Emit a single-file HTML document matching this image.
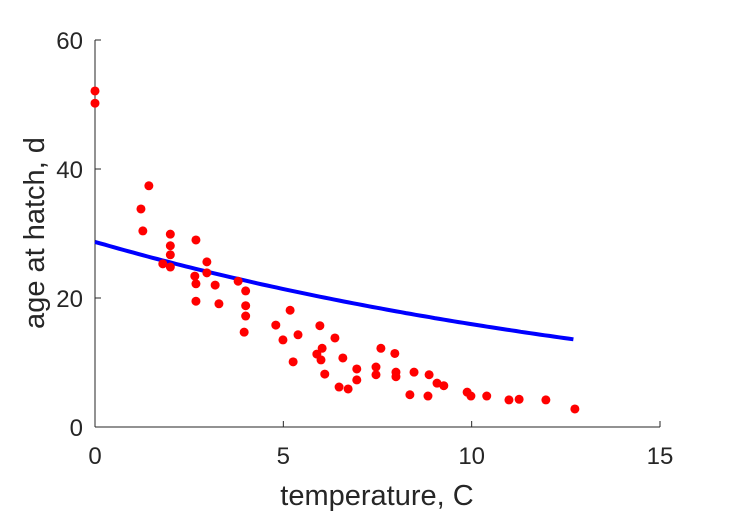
<!DOCTYPE html>
<html><head><meta charset="utf-8"><style>
body{margin:0;background:#fff;}
svg text{font-family:"Liberation Sans",sans-serif;fill:#262626;}
</style></head><body>
<svg width="729" height="521">
<g id="axes"></g>
<g id="marks"></g>
<text x="377" y="505" font-size="29" text-anchor="middle">temperature, C</text>
<text transform="translate(44,233) rotate(-90)" font-size="29" text-anchor="middle">age at hatch, d</text>
</svg>
<script>
const tempC=[0,0,1.43,1.22,1.27,2.0,2.0,2.0,1.8,2.0,2.68,2.97,2.97,2.65,2.68,2.68,3.19,3.29,3.8,4.0,4.0,4.0,3.96,5.18,4.8,4.99,5.39,5.26,5.97,6.37,6.03,5.89,6.0,6.1,6.58,6.48,6.72,6.95,6.95,7.59,7.96,7.46,7.46,7.99,7.99,8.47,8.36,8.87,8.84,9.08,9.26,9.88,9.98,10.4,10.99,11.26,11.97,12.74];
const ageD=[52.1,50.2,37.4,33.8,30.4,29.9,28.1,26.7,25.3,24.8,29.0,25.6,23.9,23.4,22.2,19.5,22.0,19.1,22.6,21.1,18.8,17.2,14.7,18.1,15.8,13.5,14.3,10.1,15.7,13.8,12.2,11.3,10.4,8.2,10.7,6.2,5.9,9.0,7.3,12.2,11.4,9.3,8.1,8.5,7.8,8.5,5.0,8.1,4.8,6.8,6.4,5.4,4.8,4.8,4.2,4.3,4.2,2.8];
const fitA0=28.7, fitK=0.0588, fitXMax=12.7;
const xTicks=[0,5,10,15];
const yTicks=[0,20,40,60];
const NS="http://www.w3.org/2000/svg";
const X0=95,X1=660,Y0=427,Y1=40;
const sx=v=>X0+(v-0)/(15-0)*(X1-X0);
const sy=v=>Y0-(v-0)/(60-0)*(Y0-Y1);
function mk(t,a,p){const e=document.createElementNS(NS,t);for(const k in a)e.setAttribute(k,a[k]);p.appendChild(e);return e;}
const ax=document.getElementById('axes'),mg=document.getElementById('marks');
let l=mk('line',{x1:X0,y1:Y0,x2:X1,y2:Y0,stroke:'#262626','stroke-width':1},ax);


l=mk('line',{x1:X0,y1:Y0,x2:X0,y2:Y1,stroke:'#262626','stroke-width':1},ax);


xTicks.forEach(v=>{
 const t=mk('line',{x1:sx(v),y1:Y0,x2:sx(v),y2:Y0-6,stroke:'#262626'},ax);
 
 
 const s=mk('text',{x:sx(v),y:Y0+37,'font-size':24,'text-anchor':'middle'},ax);s.textContent=v;
 
 
});
yTicks.forEach(v=>{
 const t=mk('line',{x1:X0,y1:sy(v),x2:X0+6,y2:sy(v),stroke:'#262626'},ax);
 
 
 const s=mk('text',{x:X0-12,y:sy(v)+9,'font-size':24,'text-anchor':'end'},ax);s.textContent=v;
 
 
});
let d='';
for(let i=0;i<=100;i++){const x=fitXMax*i/100;d+=(i?'L':'M')+sx(x).toFixed(1)+','+sy(fitA0*Math.exp(-fitK*x)).toFixed(1);}
const fl=mk('path',{d:d,fill:'none',stroke:'#0000ff','stroke-width':4},mg);


tempC.forEach((x,i)=>{
 const c=mk('circle',{cx:sx(x),cy:sy(ageD[i]),r:4.5,fill:'#ff0000'},mg);
 
 
});
</script>
</body></html>
